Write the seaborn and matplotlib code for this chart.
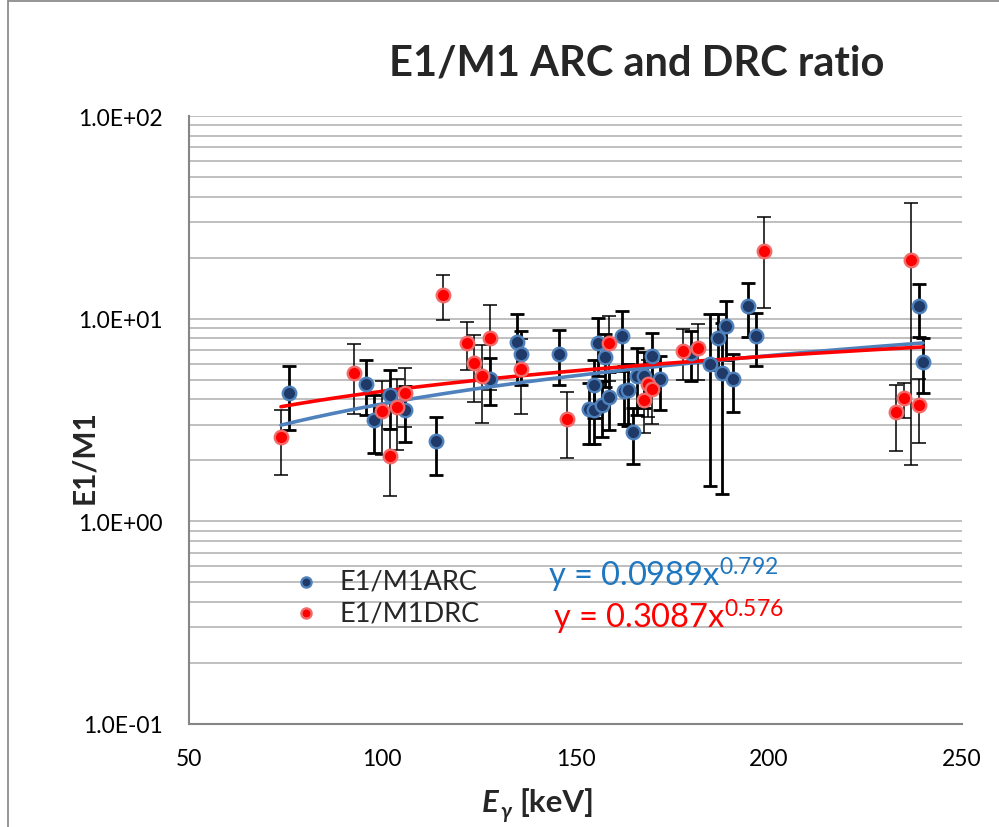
import numpy as np
import pandas as pd
import matplotlib
matplotlib.use("Agg")
import matplotlib.pyplot as plt
import seaborn as sns
from matplotlib.lines import Line2D
from matplotlib.ticker import FixedLocator, FuncFormatter, NullFormatter, LogLocator

# ---------------- data ----------------
arc_energy = [75.9, 95.8, 97.9, 102.0, 105.9, 113.9, 127.9, 134.9, 135.9, 145.7,
              153.5, 154.8, 154.8, 155.8, 156.9, 157.6, 158.7, 162.0, 162.5, 163.6,
              164.9, 165.9, 167.7, 169.8, 171.9, 179.9, 184.8, 186.9, 188.0, 189.0,
              190.8, 194.6, 196.7, 238.9, 239.9]
arc_ratio = [4.32, 4.78, 3.18, 4.22, 3.56, 2.48, 5.06, 7.70, 6.73, 6.73,
             3.60, 3.56, 4.73, 7.62, 3.77, 6.50, 4.13, 8.24, 4.42, 4.47,
             2.77, 5.24, 5.24, 6.58, 5.06, 6.80, 6.00, 8.05, 5.42, 9.24,
             5.06, 11.6, 8.24, 11.5, 6.14]
arc_err = [1.50, 1.45, 1.00, 1.35, 1.10, 0.78, 1.30, 2.90, 2.00, 2.05,
           1.20, 1.15, 1.50, 2.40, 1.15, 1.90, 1.30, 2.70, 1.40, 1.50,
           0.85, 1.90, 1.60, 1.90, 1.50, 1.90, 4.50, 2.45, 4.06, 3.00,
           1.60, 3.45, 2.40, 3.40, 1.85]

drc_energy = [73.8, 92.7, 99.9, 102.0, 103.8, 105.9, 115.7, 121.9, 123.7, 125.8,
              127.9, 135.9, 147.8, 158.7, 167.7, 168.8, 169.8, 177.8, 181.7, 198.8,
              232.9, 235.0, 236.8, 238.9]
drc_ratio = [2.62, 5.42, 3.52, 2.09, 3.65, 4.32, 13.1, 7.62, 6.07, 5.24,
             8.05, 5.67, 3.21, 7.62, 3.99, 4.78, 4.52, 6.95, 7.20, 21.6,
             3.48, 4.04, 19.5, 3.73]
drc_err = [0.93, 2.05, 1.40, 0.75, 1.40, 1.40, 3.30, 2.05, 2.20, 2.20,
           3.60, 2.30, 1.15, 2.70, 1.25, 1.50, 1.50, 1.95, 2.20, 10.3,
           1.25, 0.80, 17.6, 1.30]

series_names = ["E1/M1ARC", "E1/M1DRC"]
fit_coef = [0.0989, 0.3087]
fit_exp = [0.792, 0.576]
eq_labels = ["y = 0.0989x$^{0.792}$", "y = 0.3087x$^{0.576}$"]

x_ticks = [50, 100, 150, 200, 250]
y_ticks = [0.1, 1.0, 10.0, 100.0]
y_tick_labels = ["1.0E-01", "1.0E+00", "1.0E+01", "1.0E+02"]

title = "E1/M1 ARC and DRC ratio"
ylabel = "E1/M1"

# ---------------- style ----------------
sns.set_style("white")
plt.rcParams["font.family"] = ["Lato", "DejaVu Sans"]
plt.rcParams["mathtext.fontset"] = "custom"
plt.rcParams["mathtext.rm"] = "Lato"
plt.rcParams["mathtext.it"] = "Lato:italic"
plt.rcParams["mathtext.bf"] = "Lato:bold"

W, H = 999, 828
fig = plt.figure(figsize=(W / 100, H / 100), dpi=100)
fig.patch.set_facecolor("white")

def fx(px):
    return px / W

def fy(py):
    return 1 - py / H

ax = fig.add_axes([fx(189), fy(725), fx(962) - fx(189), fy(117) - fy(725)])

df = pd.DataFrame({
    "energy": arc_energy + drc_energy,
    "ratio": arc_ratio + drc_ratio,
    "err": arc_err + drc_err,
    "series": [series_names[0]] * len(arc_energy) + [series_names[1]] * len(drc_energy),
})

blue_line = "#4F81BD"
blue_face = "#1F3A68"
red_face = "#FF0000"
red_edge = "#F26B6B"

# error bars
sub_a = df[df.series == series_names[0]]
sub_d = df[df.series == series_names[1]]
ax.errorbar(sub_a.energy, sub_a.ratio, yerr=sub_a.err, fmt="none", ecolor="black",
            elinewidth=2.0, capsize=5, capthick=2.0, zorder=3)
ax.errorbar(sub_d.energy, sub_d.ratio, yerr=sub_d.err, fmt="none", ecolor="black",
            elinewidth=1.1, capsize=5, capthick=1.1, zorder=3)

# trend lines (power fits)
xmin, xmax = df.energy.min(), df.energy.max()
xs = np.linspace(xmin, xmax, 200)
trend = pd.DataFrame({
    "energy": np.concatenate([xs, xs]),
    "ratio": np.concatenate([fit_coef[0] * xs ** fit_exp[0], fit_coef[1] * xs ** fit_exp[1]]),
    "series": [series_names[0]] * len(xs) + [series_names[1]] * len(xs),
})
sns.lineplot(data=trend, x="energy", y="ratio", hue="series",
             palette={series_names[0]: blue_line, series_names[1]: red_face},
             linewidth=2.6, legend=False, ax=ax, zorder=4)

# markers
sns.scatterplot(data=sub_a, x="energy", y="ratio", color=blue_face, edgecolor=blue_line,
                linewidth=1.7, s=95, ax=ax, zorder=5, label=series_names[0])
sns.scatterplot(data=sub_d, x="energy", y="ratio", color=red_face, edgecolor=red_edge,
                linewidth=1.7, s=95, ax=ax, zorder=5, label=series_names[1])

ax.set_yscale("log")
ax.set_xlim(50, 250)
ax.set_ylim(0.1, 100)
ax.xaxis.set_major_locator(FixedLocator(x_ticks))
ax.yaxis.set_major_locator(FixedLocator(y_ticks))
ax.yaxis.set_major_formatter(FuncFormatter(lambda v, p: y_tick_labels[y_ticks.index(min(y_ticks, key=lambda t: abs(np.log10(t) - np.log10(v))))]))
ax.yaxis.set_minor_locator(LogLocator(base=10, subs=np.arange(2, 10)))
ax.yaxis.set_minor_formatter(NullFormatter())
ax.tick_params(axis="y", which="minor", length=0)
ax.tick_params(axis="both", which="major", length=9, width=1.5, color="#868686",
               labelsize=16.5, labelcolor="black", direction="out", pad=10)
ax.tick_params(axis="x", pad=8)

ax.grid(False)
ax.yaxis.grid(True, which="both", color="#BFBFBF", linewidth=1.4)
ax.set_axisbelow(True)
for s in ["top", "right"]:
    ax.spines[s].set_visible(False)
for s in ["left", "bottom"]:
    ax.spines[s].set_color("#868686")
    ax.spines[s].set_linewidth(1.5)
ax.set_xlabel("")
ax.set_ylabel("")

# legend
leg = ax.legend(loc="center left", bbox_to_anchor=(fx(292), fy(598)),
                bbox_transform=fig.transFigure, frameon=False, fontsize=19.5,
                handlelength=1.0, handletextpad=0.75, labelspacing=0.25,
                borderpad=0, borderaxespad=0, markerscale=0.75)

# equations
fig.text(fx(548), fy(587), eq_labels[0], color="#1F77C0", fontsize=23.5, va="baseline")
fig.text(fx(553), fy(629), eq_labels[1], color="#FF0000", fontsize=23.5, va="baseline")

# title
fig.text(fx(637), fy(76), title, fontsize=30, fontweight="bold", ha="center", va="baseline")

# y label
fig.text(fx(84), fy(457), ylabel, fontsize=21.5, fontweight="bold", rotation=90,
         ha="center", va="center")

# x label: E_gamma [keV]
fig.text(fx(482), fy(812), "E", fontsize=22.5, fontweight="bold", style="italic", va="baseline")
fig.text(fx(500), fy(818), "γ", fontsize=15, fontweight="bold", style="italic", va="baseline",
         family=["Lato", "DejaVu Sans"])
fig.text(fx(519), fy(812), "[keV]", fontsize=22.5, fontweight="bold", va="baseline")

# chart-area border (left and top visible)
fig.add_artist(Line2D([fx(8), fx(8)], [0, fy(2)], color="#8C8C8C", linewidth=1.3))
fig.add_artist(Line2D([fx(8), 1], [fy(2), fy(2)], color="#8C8C8C", linewidth=1.3))

fig.savefig("out.png", dpi=100, facecolor="white")
